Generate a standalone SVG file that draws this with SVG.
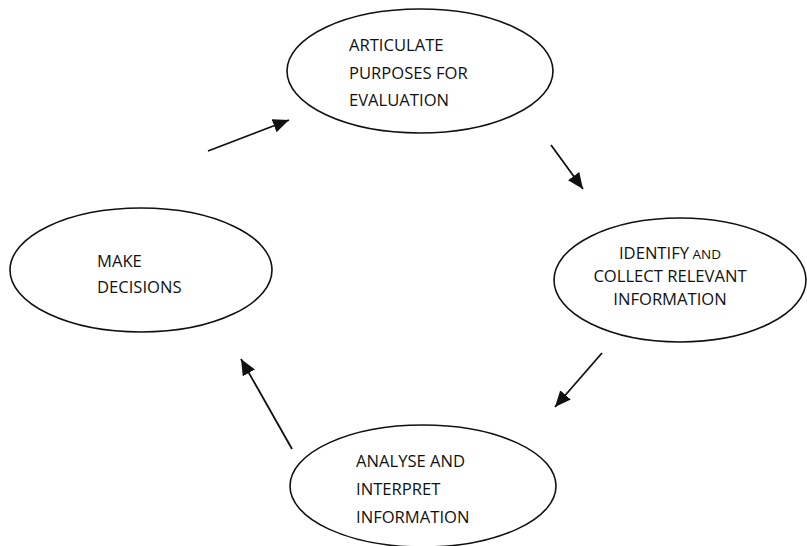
<svg xmlns="http://www.w3.org/2000/svg" width="807" height="546" viewBox="0 0 807 546">
  <style>
    .node ellipse { fill: #ffffff; stroke: #111111; stroke-width: 1.6; }
    .lbl { font-family: "Open Sans", "Liberation Sans", sans-serif; fill: #111111; font-size: 16.6px; }
    .conn line { stroke: #111111; stroke-width: 1.8; }
  </style>
  <defs>
    <marker id="arrow" markerUnits="userSpaceOnUse" markerWidth="18" markerHeight="14" refX="16" refY="7" orient="auto">
      <path d="M0,0 L16,7 L0,14 Z" fill="#111111"/>
    </marker>
  </defs>
  <rect width="807" height="546" fill="#ffffff"/>

  <g id="node-articulate" class="node">
    <ellipse cx="420" cy="71" rx="133" ry="62"/>
    <text class="lbl" x="349" y="51">ARTICULATE</text>
    <text class="lbl" x="349" y="79">PURPOSES FOR</text>
    <text class="lbl" x="349" y="106">EVALUATION</text>
  </g>

  <g id="node-identify" class="node">
    <ellipse cx="680" cy="280" rx="126" ry="62"/>
    <text class="lbl" x="670" y="259" text-anchor="middle"><tspan font-size="16.6">IDENTIFY</tspan><tspan font-size="13.5"> AND</tspan></text>
    <text class="lbl" x="670" y="282" text-anchor="middle" font-size="13.8">COLLECT RELEVANT</text>
    <text class="lbl" x="670" y="304.5" text-anchor="middle" font-size="15.4">INFORMATION</text>
  </g>

  <g id="node-analyse" class="node">
    <ellipse cx="423" cy="486" rx="133" ry="61"/>
    <text class="lbl" x="356" y="467">ANALYSE AND</text>
    <text class="lbl" x="356" y="495">INTERPRET</text>
    <text class="lbl" x="356" y="523">INFORMATION</text>
  </g>

  <g id="node-decide" class="node">
    <ellipse cx="141" cy="270" rx="131" ry="62"/>
    <text class="lbl" x="97" y="267">MAKE</text>
    <text class="lbl" x="97" y="293">DECISIONS</text>
  </g>

  <g id="connectors" class="conn">
    <line x1="208" y1="151" x2="289" y2="120" marker-end="url(#arrow)"/>
    <line x1="551" y1="145" x2="583" y2="189" marker-end="url(#arrow)"/>
    <line x1="602" y1="353" x2="555" y2="407" marker-end="url(#arrow)"/>
    <line x1="292" y1="449" x2="241" y2="359" marker-end="url(#arrow)"/>
  </g>
</svg>
